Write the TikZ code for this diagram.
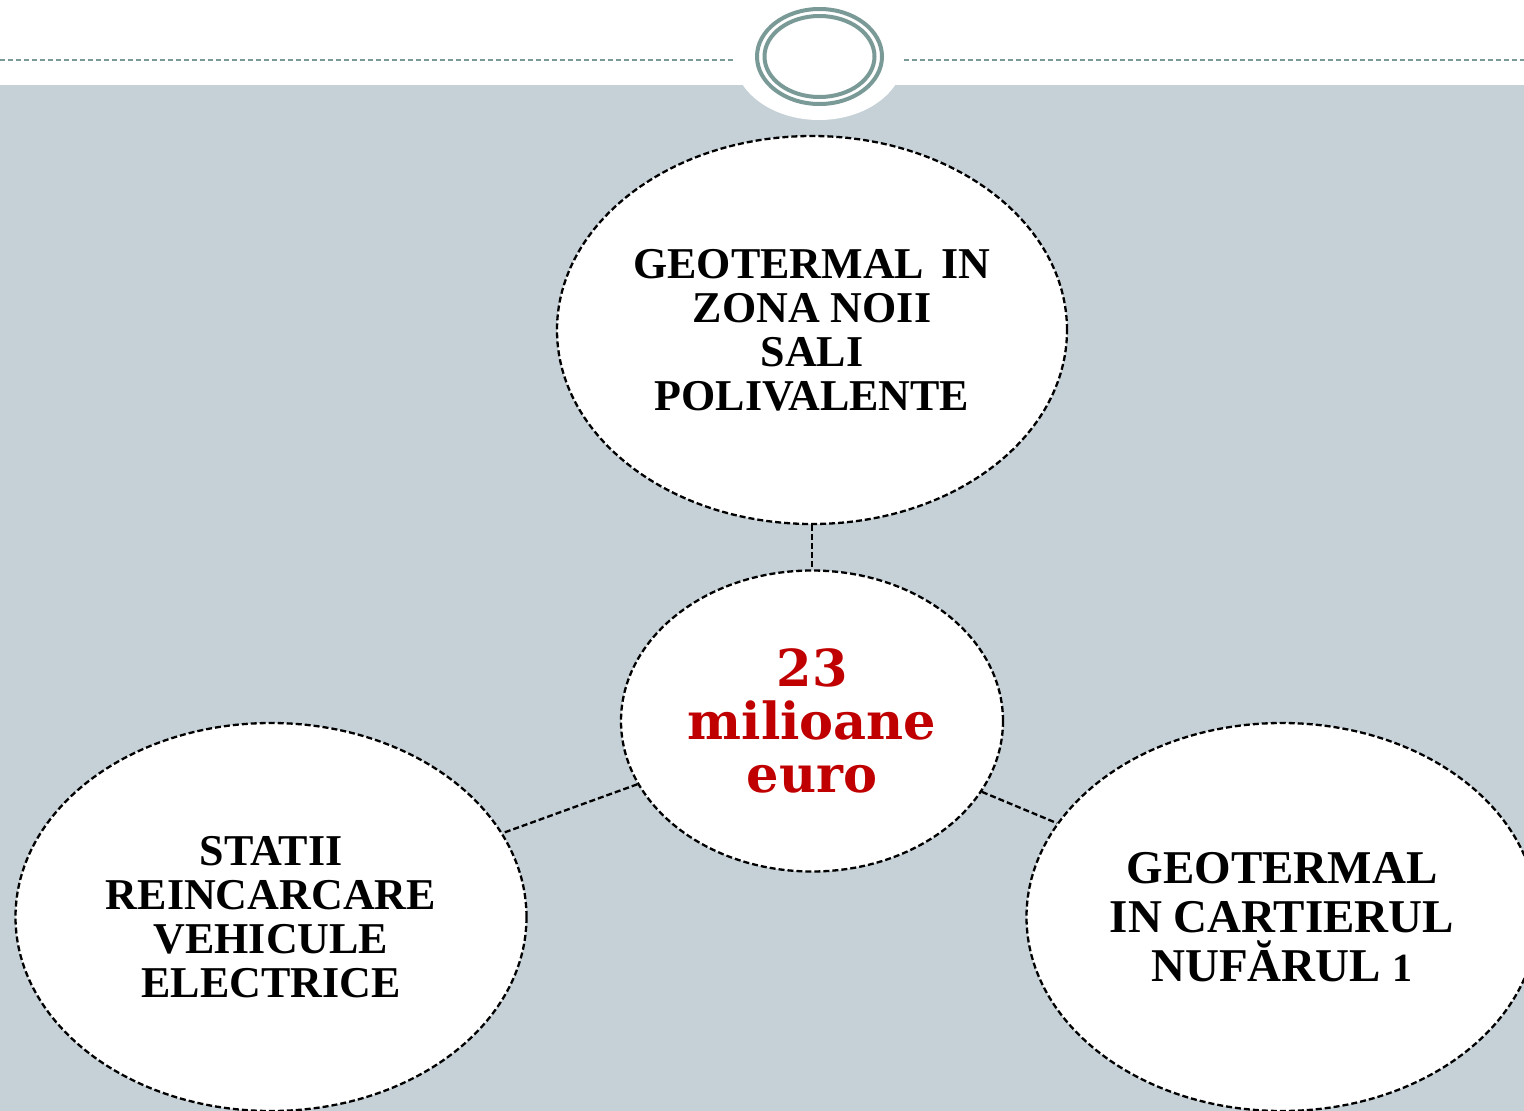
\documentclass[tikz,border=0pt]{standalone}
\usepackage{fontspec}
\setmainfont{Liberation Serif}
\newfontfamily\numfont{DejaVu Serif}
\usetikzlibrary{shapes.geometric}
\definecolor{bgblue}{RGB}{197,209,215}
\definecolor{teal}{RGB}{122,154,151}
\definecolor{darkred}{RGB}{192,0,0}
\tikzset{
  bubble/.style={ellipse, draw=black, fill=white, line width=2.3pt,
    dash pattern=on 6pt off 3pt, inner sep=0pt, align=center,
    font=\bfseries\fontsize{44}{44}\selectfont},
  link/.style={draw=black, line width=2.3pt, dash pattern=on 6pt off 3pt},
  ring/.style={draw=teal, line width=4pt}
}
\begin{document}
\begin{tikzpicture}[x=1pt,y=-1pt]
\useasboundingbox (0,0) rectangle (1524,1111);
\fill[white] (0,0) rectangle (1524,85);
\fill[bgblue] (0,85) rectangle (1524,1111);
\draw[teal, line width=2pt, dash pattern=on 5pt off 3pt] (0,60) -- (736,60);
\draw[teal, line width=2pt, dash pattern=on 5pt off 3pt] (904,60) -- (1524,60);
\fill[white] (819,57) ellipse [x radius=85, y radius=63];
\draw[ring] (819.5,56.5) ellipse [x radius=62.5, y radius=47.5];
\draw[ring] (819.5,56.5) ellipse [x radius=55, y radius=40.5];

\node[bubble, minimum width=510pt, minimum height=388pt] (top) at (812,330)
  {GEOTERMAL\hspace{0.4em}IN\\ZONA NOII\\SALI\\POLIVALENTE};
\node[bubble, minimum width=382pt, minimum height=301pt,
  font=\numfont\bfseries\fontsize{51}{53}\selectfont, text=darkred] (mid) at (812,721)
  {23\\milioane\\euro};
\node[bubble, minimum width=511pt, minimum height=388pt] (left) at (271,917)
  {STATII\\REINCARCARE\\VEHICULE\\ELECTRICE};
\node[bubble, minimum width=511pt, minimum height=388pt,
  font=\bfseries\fontsize{47}{49}\selectfont] (right) at (1282,917)
  {GEOTERMAL\\IN CARTIERUL\\NUFĂRUL {\fontsize{40}{40}\selectfont 1}};

\draw[link] (top) -- (mid);
\draw[link] (mid) -- (left);
\draw[link] (mid) -- (right);
\end{tikzpicture}
\end{document}
